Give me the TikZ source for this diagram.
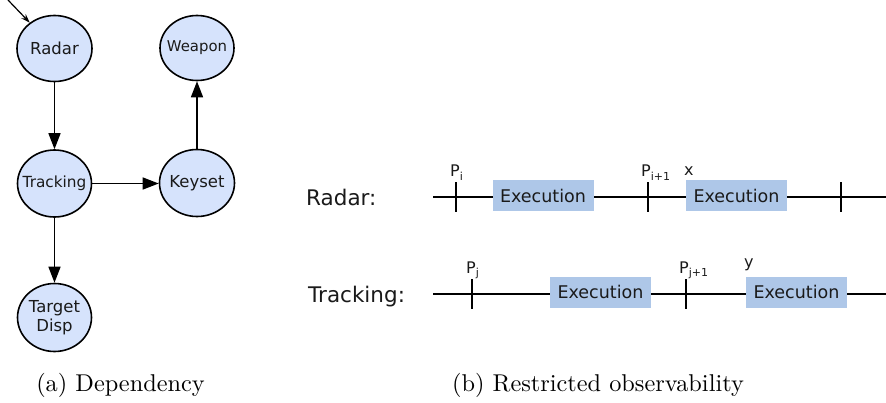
\documentclass[tikz,border=0pt]{standalone}
\usepackage{fontspec}
\newfontfamily\dvsans{DejaVu Sans}
\usetikzlibrary{arrows.meta,shapes.geometric}
\definecolor{nodefill}{RGB}{214,227,252}
\definecolor{execfill}{RGB}{174,199,232}
\definecolor{ink}{RGB}{26,26,26}
\newcommand{\sz}[1]{\fontsize{#1}{#1}\selectfont}
\newcommand{\lowsub}[1]{\raisebox{-3.5pt}{\fontsize{11}{11}\selectfont #1}}

\begin{document}
\begin{tikzpicture}[x=1pt,y=-1pt,
  task/.style={ellipse, draw=black, line width=1.6pt, fill=nodefill, inner sep=-30pt,
    text=ink, font=\dvsans\sz{16.5}, align=center},
  dep/.style={line width=1.5pt, -{Triangle[length=16pt,width=12pt]}},
  execbox/.style={rectangle, fill=execfill, inner sep=0pt, minimum width=101pt,
    minimum height=31.5pt, text=ink, font=\dvsans\sz{17.5}},
  timeline/.style={line width=1.8pt},
  tickmark/.style={line width=2pt},
  rowlabel/.style={anchor=base west, inner sep=0pt, text=ink, font=\dvsans\sz{21.5}},
  ptlabel/.style={anchor=base west, inner sep=0pt, text=ink, font=\dvsans\sz{16}},
  subcap/.style={anchor=base, inner sep=0pt, scale=2.43}]

\useasboundingbox (0,0) rectangle (886,402);

% ---- (a) dependency graph ----
\node[task, minimum width=75pt, minimum height=66pt] (radar) at (54.5,48.5) {Radar};
\node[task, minimum width=74pt, minimum height=67pt, font=\dvsans\sz{15.3}] (tracking) at (54.5,183.5) {Tracking};
\node[task, minimum width=74pt, minimum height=68pt] (target) at (54.5,317.5) {Target\\[2pt]Disp};
\node[task, minimum width=75pt, minimum height=67pt] (keyset) at (197,183) {Keyset};
\node[task, minimum width=74pt, minimum height=65pt, font=\dvsans\sz{14.9}] (weapon) at (197,48) {Weapon};

\coordinate (entry) at (8,0);
\draw[line width=1.2pt, -{Stealth[length=9pt,width=6pt]}] (entry) -- (radar);
\draw[dep] (radar) -- (tracking);
\draw[dep] (tracking) -- (target);
\draw[dep] (tracking.east) -- (tracking.east -| keyset.west);
\draw[dep] (keyset) -- (weapon);

\node[subcap] (capa) at (120.5,391.7) {(a) Dependency};

% ---- (b) restricted observability ----
\node[rowlabel] (radarlab) at (306,205) {Radar:};
\node[rowlabel] (tracklab) at (308,302.7) {Tracking:};

% radar period line
\coordinate (rs) at (433,197);
\coordinate (re) at (886,197);
\draw[timeline] (rs) -- (re);
\coordinate (r1) at (456,197);
\coordinate (r2) at (647.5,197);
\coordinate (r3) at (841,197);
\foreach \t in {r1,r2,r3}
  \draw[tickmark] ([yshift=15pt]\t) -- ([yshift=-15pt]\t);
\node[execbox] (rx1) at (543,195.5) {Execution};
\node[execbox] (rx2) at (736.5,195.5) {Execution};

% tracking period line
\coordinate (ts) at (433,294);
\coordinate (te) at (886,294);
\draw[timeline] (ts) -- (te);
\coordinate (t1) at (472,294);
\coordinate (t2) at (686,294);
\foreach \t in {t1,t2}
  \draw[tickmark] ([yshift=15pt]\t) -- ([yshift=-15pt]\t);
\node[execbox] (tx1) at (600.5,292.3) {Execution};
\node[execbox] (tx2) at (796.5,292.3) {Execution};

% period and sample labels
\node[ptlabel] (pi)  at (450,176.7) {P\lowsub{i}};
\node[ptlabel] (pi1) at (641,176.7) {P\lowsub{i+1}};
\node[ptlabel] (xlab) at (684,175) {x};
\node[ptlabel] (pj)  at (466,273.3) {P\lowsub{j}};
\node[ptlabel] (pj1) at (679,273.3) {P\lowsub{j+1}};
\node[ptlabel] (ylab) at (744,267.3) {y};

\node[subcap] (capb) at (598,391.7) {(b) Restricted observability};
\end{tikzpicture}
\end{document}
